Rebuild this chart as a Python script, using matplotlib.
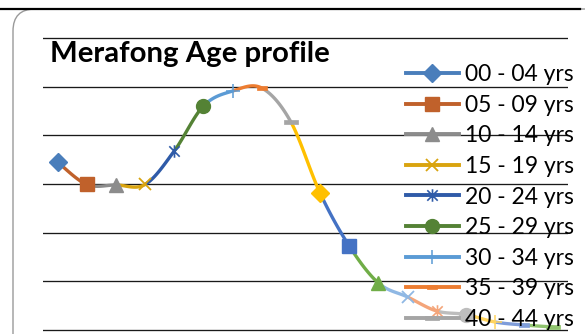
import numpy as np
import matplotlib
matplotlib.use("Agg")
import matplotlib.pyplot as plt
from matplotlib.lines import Line2D
from matplotlib.path import Path
from matplotlib.patches import FancyBboxPatch

plt.rcParams['font.family'] = ['Lato', 'DejaVu Sans']

# Population per five-year age group
age_groups = ["00 - 04 yrs", "05 - 09 yrs", "10 - 14 yrs", "15 - 19 yrs",
              "20 - 24 yrs", "25 - 29 yrs", "30 - 34 yrs", "35 - 39 yrs",
              "40 - 44 yrs", "45 - 49 yrs", "50 - 54 yrs", "55 - 59 yrs",
              "60 - 64 yrs", "65 - 69 yrs", "70 - 74 yrs", "75 - 79 yrs",
              "80 - 84 yrs", "85+ yrs"]
population = [17260, 14950, 14900, 14950, 18390, 23010, 24550, 24860,
              21370, 14070, 8630, 4830, 3390, 1950, 1590, 820, 510, 310]

series_colors = ["#4A7EBB", "#C0612B", "#8C8C8C", "#D9A40F", "#2F5BA8", "#548235",
                 "#5B9BD5", "#ED7D31", "#A5A5A5", "#FFC000", "#4472C4", "#70AD47",
                 "#8FB8E4", "#F4A57A", "#BDBDBD", "#FFD460", "#7F9DDA", "#90C46E"]

# Excel-style marker shapes
star = Path([(-1, -1), (1, 1), (-1, 1), (1, -1), (0, -1.2), (0, 1.2)],
            [Path.MOVETO, Path.LINETO, Path.MOVETO, Path.LINETO, Path.MOVETO, Path.LINETO])
short_dash = Path([(-0.5, -0.2), (0.5, -0.2), (0.5, 0.2), (-0.5, 0.2), (-0.5, -0.2)],
                  [Path.MOVETO, Path.LINETO, Path.LINETO, Path.LINETO, Path.CLOSEPOLY])
long_dash = Path([(-0.5, -0.14), (0.5, -0.14), (0.5, 0.14), (-0.5, 0.14), (-0.5, -0.14)],
                 [Path.MOVETO, Path.LINETO, Path.LINETO, Path.LINETO, Path.CLOSEPOLY])

marker_cycle = [("D", 9.0, 1.0), ("s", 10, 1.0), ("^", 10, 1.0), ("x", 9, 1.3),
                (star, 9, 1.2), ("o", 10, 1.0), ("+", 10, 1.1), (short_dash, 6.5, 0.5),
                (long_dash, 10, 0.5)]
series_markers = [marker_cycle[i % len(marker_cycle)] for i in range(len(age_groups))]

W, H = 585, 334
fig = plt.figure(figsize=(W / 100, H / 100), dpi=100)
fig.patch.set_facecolor("white")

# Chart frame and top rule
frame = FancyBboxPatch((0.13, -0.4), 5.95, (H - 9) / 100 + 0.4,
                       boxstyle="round,pad=0,rounding_size=0.22",
                       transform=fig.dpi_scale_trans, facecolor="none",
                       edgecolor="#9a9a9a", linewidth=1.0, zorder=-1)
fig.patches.append(frame)
fig.add_artist(Line2D([0, 5.80], [(H - 8.5) / 100] * 2, transform=fig.dpi_scale_trans,
                      color="black", linewidth=1.6, zorder=1))

# Plot area
px_per_unit = 48.67 / 5000
ax_top_px, ax_bot_px = 30, 334
ax = fig.add_axes([43 / W, (H - ax_bot_px) / H, (568 - 43) / W, (ax_bot_px - ax_top_px) / H])
ax.set_facecolor("none")
ax.set_xlim(-0.5, len(age_groups) - 0.5)
ax.set_ylim(-(ax_bot_px - 330) / px_per_unit, 30000 + (38 - ax_top_px) / px_per_unit)
ax.set_yticks(np.arange(0, 30001, 5000))
ax.set_xticks([])
ax.tick_params(left=False, labelleft=False)
for s in ax.spines.values():
    s.set_visible(False)
ax.yaxis.grid(True, color="#1a1a1a", linewidth=0.95)
ax.set_axisbelow(True)

# Smoothed line (Catmull-Rom through all points), one coloured piece per age group
x = np.arange(len(population), dtype=float)
y = np.array(population, dtype=float)
pts = np.column_stack([x, y])
ext = np.vstack([pts[0], pts, pts[-1]])
t = np.linspace(0, 1, 40)[:, None]
lw = 2.4
for i in range(1, len(pts)):
    p0, p1, p2, p3 = ext[i - 1], ext[i], ext[i + 1], ext[i + 2]
    b1 = p1 + (p2 - p0) / 6
    b2 = p2 - (p3 - p1) / 6
    seg = ((1 - t) ** 3) * p1 + 3 * ((1 - t) ** 2) * t * b1 + 3 * (1 - t) * t ** 2 * b2 + t ** 3 * p2
    ax.plot(seg[:, 0], seg[:, 1], color=series_colors[i], linewidth=lw,
            solid_capstyle="butt", zorder=2 + i * 0.01)

handles = []
for i, (lab, val) in enumerate(zip(age_groups, population)):
    mk, ms, mew = series_markers[i]
    ax.plot([x[i]], [val], linestyle="none", marker=mk, markersize=ms,
            markerfacecolor=series_colors[i], markeredgecolor=series_colors[i],
            markeredgewidth=mew, zorder=3 + i * 0.01, clip_on=False)
    handles.append(Line2D([], [], color=series_colors[i], linewidth=lw + 0.4, marker=mk,
                          markersize=ms, markerfacecolor=series_colors[i],
                          markeredgecolor=series_colors[i], markeredgewidth=mew))

fs = 16.5
leg = fig.legend(handles, age_groups, loc="upper left",
                 bbox_to_anchor=(406 / W, 1 - 64 / H), frameon=False,
                 fontsize=fs, handlelength=2.31, handletextpad=0.26,
                 labelspacing=0.42, borderpad=0, borderaxespad=0)
leg.set_zorder(10)

fig.text(50 / W, 1 - 62 / H, "Merafong Age profile", fontsize=21.2,
         fontweight="bold", va="baseline", ha="left", color="black")

fig.savefig("out.png", dpi=100)
